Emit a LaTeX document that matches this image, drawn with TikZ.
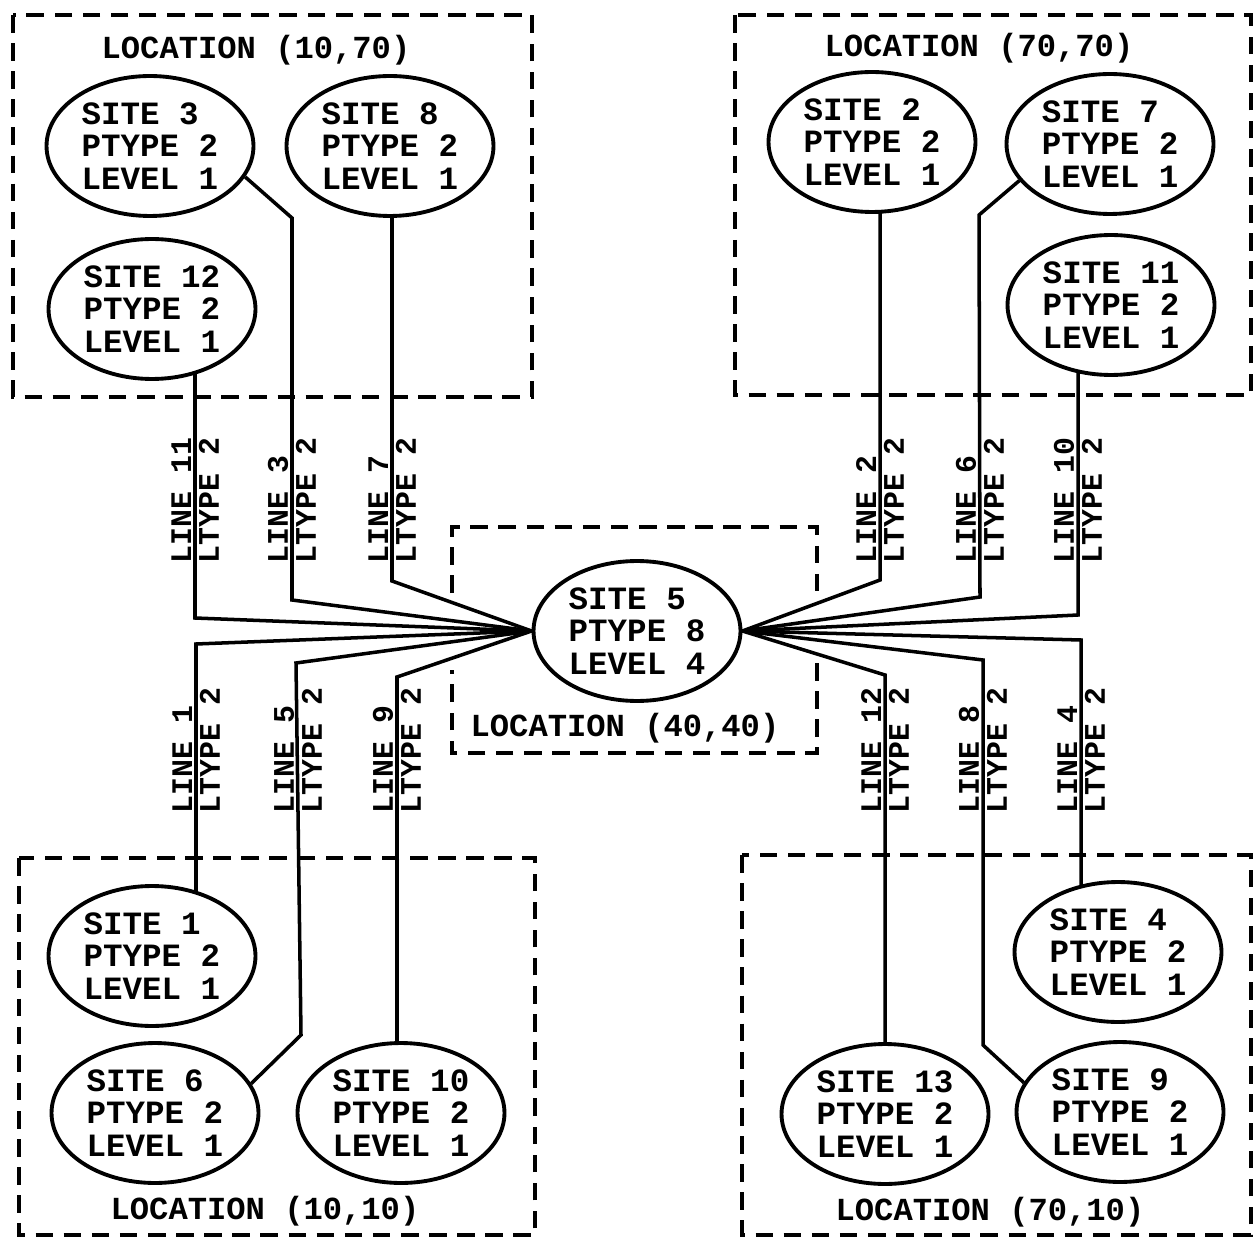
\documentclass[tikz,border=0pt]{standalone}
\usepackage{fontspec}
\setmonofont{Liberation Mono}
\usetikzlibrary{shapes.geometric,backgrounds}

\tikzset{
  site/.style={ellipse, draw, line width=2.2pt, fill=white,
    minimum width=4.14cm, minimum height=2.8cm, inner sep=0pt, align=left,
    font=\ttfamily\bfseries\fontsize{18.5pt}{18.7pt}\selectfont},
  locbox/.style={line width=2.2pt, dash pattern=on 10pt off 6pt},
  loclbl/.style={inner sep=0pt, font=\ttfamily\bfseries\fontsize{18.3pt}{18.3pt}\selectfont},
  link/.style={line width=2pt, line join=miter},
  lnlbl/.style={rotate=90, anchor=south west, inner sep=2pt,
    font=\ttfamily\bfseries\fontsize{17pt}{17pt}\selectfont},
  ltlbl/.style={rotate=90, anchor=north west, inner sep=2pt,
    font=\ttfamily\bfseries\fontsize{17pt}{17pt}\selectfont}
}

\begin{document}
\begin{tikzpicture}[x=0.02cm, y=-0.02cm]
  \useasboundingbox (0,0) rectangle (1253,1239);

  % location boxes
  \draw[locbox] (13,15) rectangle (532,397);
  \draw[locbox] (735,15) rectangle (1251,395);
  \draw[locbox] (19,858) rectangle (535,1235);
  \draw[locbox] (742,855) rectangle (1251,1235);
  \draw[locbox] (452,593) -- (452,527) -- (817,527) -- (817,595)
                (817,663) -- (817,753) -- (452,753) -- (452,670);

  \node[loclbl] (loc1070) at (256,50) {LOCATION (10,70)};
  \node[loclbl] (loc7070) at (979,48) {LOCATION (70,70)};
  \node[loclbl] (loc4040) at (625,728) {LOCATION (40,40)};
  \node[loclbl] (loc1010) at (265,1211) {LOCATION (10,10)};
  \node[loclbl] (loc7010) at (990,1212) {LOCATION (70,10)};

  % sites
  \node[site] (s3) at (150,146) {SITE 3\\PTYPE 2\\LEVEL 1};
  \node[site] (s8) at (390,146) {SITE 8\\PTYPE 2\\LEVEL 1};
  \node[site] (s12) at (152,309) {SITE 12\\PTYPE 2\\LEVEL 1};
  \node[site] (s2) at (872,142) {SITE 2\\PTYPE 2\\LEVEL 1};
  \node[site] (s7) at (1110,144) {SITE 7\\PTYPE 2\\LEVEL 1};
  \node[site] (s11) at (1111,305) {SITE 11\\PTYPE 2\\LEVEL 1};
  \node[site] (s5) at (637,631) {SITE 5\\PTYPE 8\\LEVEL 4};
  \node[site] (s1) at (152,956) {SITE 1\\PTYPE 2\\LEVEL 1};
  \node[site] (s6) at (155,1113) {SITE 6\\PTYPE 2\\LEVEL 1};
  \node[site] (s10) at (401,1113) {SITE 10\\PTYPE 2\\LEVEL 1};
  \node[site] (s4) at (1118,952) {SITE 4\\PTYPE 2\\LEVEL 1};
  \node[site] (s13) at (885,1114) {SITE 13\\PTYPE 2\\LEVEL 1};
  \node[site] (s9) at (1120,1112) {SITE 9\\PTYPE 2\\LEVEL 1};

  % bends of the lines
  \coordinate (k11) at (195,618);
  \coordinate (k3a) at (292,600);
  \coordinate (k3b) at (292,218);
  \coordinate (k7) at (392,581);
  \coordinate (k1) at (196,644);
  \coordinate (k5a) at (296,663);
  \coordinate (k5b) at (301,1035);
  \coordinate (k9) at (397,677);
  \coordinate (k2) at (880,580);
  \coordinate (k6a) at (980,597);
  \coordinate (k6b) at (979,215);
  \coordinate (k10) at (1078,615);
  \coordinate (k12) at (885,675);
  \coordinate (k8a) at (983,660);
  \coordinate (k8b) at (983,1045);
  \coordinate (k4) at (1081,640);

  \begin{scope}[on background layer]
    \fill[white] (0,0) rectangle (1253,1239);
    \draw[link] (s5.west) -- (k11) -- (k11 |- s12.center);
    \draw[link] (s5.west) -- (k3a) -- (k3b) -- (s3.-18);
    \draw[link] (s5.west) -- (k7) -- (k7 |- s8.center);
    \draw[link] (s5.west) -- (k1) -- (k1 |- s1.center);
    \draw[link] (s5.west) -- (k5a) -- (k5b) -- (s6.17);
    \draw[link] (s5.west) -- (k9) -- (k9 |- s10.center);
    \draw[link] (s5.east) -- (k2) -- (k2 |- s2.center);
    \draw[link] (s5.east) -- (k6a) -- (k6b) -- (s7.-158);
    \draw[link] (s5.east) -- (k10) -- (k10 |- s11.center);
    \draw[link] (s5.east) -- (k12) -- (k12 |- s13.center);
    \draw[link] (s5.east) -- (k8a) -- (k8b) -- (s9.163);
    \draw[link] (s5.east) -- (k4) -- (k4 |- s4.center);
  \end{scope}

  % line labels
  \node[lnlbl] (n11) at (195,567) {LINE 11};
  \node[ltlbl] (t11) at (195,567) {LTYPE 2};
  \node[lnlbl] (n3) at (292,567) {LINE 3};
  \node[ltlbl] (t3) at (292,567) {LTYPE 2};
  \node[lnlbl] (n7) at (392,567) {LINE 7};
  \node[ltlbl] (t7) at (392,567) {LTYPE 2};
  \node[lnlbl] (n2) at (880,567) {LINE 2};
  \node[ltlbl] (t2) at (880,567) {LTYPE 2};
  \node[lnlbl] (n6) at (980,567) {LINE 6};
  \node[ltlbl] (t6) at (980,567) {LTYPE 2};
  \node[lnlbl] (n10) at (1078,567) {LINE 10};
  \node[ltlbl] (t10) at (1078,567) {LTYPE 2};
  \node[lnlbl] (n1) at (196,817) {LINE 1};
  \node[ltlbl] (t1) at (196,817) {LTYPE 2};
  \node[lnlbl] (n5) at (298,817) {LINE 5};
  \node[ltlbl] (t5) at (298,817) {LTYPE 2};
  \node[lnlbl] (n9) at (397,817) {LINE 9};
  \node[ltlbl] (t9) at (397,817) {LTYPE 2};
  \node[lnlbl] (n12) at (885,817) {LINE 12};
  \node[ltlbl] (t12) at (885,817) {LTYPE 2};
  \node[lnlbl] (n8) at (983,817) {LINE 8};
  \node[ltlbl] (t8) at (983,817) {LTYPE 2};
  \node[lnlbl] (n4) at (1081,817) {LINE 4};
  \node[ltlbl] (t4) at (1081,817) {LTYPE 2};
\end{tikzpicture}
\end{document}
